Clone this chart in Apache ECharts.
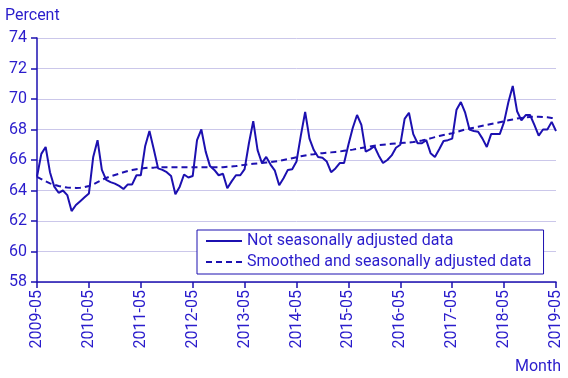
<!DOCTYPE html>
<html><head><meta charset="utf-8">
<script src="https://cdn.jsdelivr.net/npm/echarts@6/dist/echarts.min.js"></script>
<style>html,body{margin:0;padding:0;background:#fff}#c{width:568px;height:378px}</style>
</head><body><div id="c"></div>
<script>
const startYear = 2009, startMonth = 5, monthCount = 121;
const months = [];
for (let k = 0; k < monthCount; k++) {
  const m = (startMonth - 1 + k) % 12 + 1;
  const y = startYear + Math.floor((startMonth - 1 + k) / 12);
  months.push(y + '-' + (m < 10 ? '0' + m : m));
}
const notAdjusted = [
  64.9, 66.4, 66.85, 65.2, 64.25, 63.85, 64.0, 63.7, 62.65, 63.05, 63.3, 63.55,
  63.8, 66.2, 67.3, 65.35, 64.7, 64.55, 64.45, 64.3, 64.1, 64.4, 64.4, 65.0,
  65.0, 66.9, 67.9, 66.7, 65.45, 65.35, 65.2, 64.95, 63.75, 64.25, 65.05, 64.85,
  64.95, 67.3, 68.0, 66.55, 65.6, 65.35, 65.0, 65.1, 64.15, 64.6, 65.0, 65.0,
  65.4, 67.1, 68.55, 66.65, 65.8, 66.2, 65.7, 65.3, 64.35, 64.8, 65.35, 65.4,
  65.9, 67.6, 69.15, 67.4, 66.65, 66.2, 66.15, 65.9, 65.2, 65.45, 65.8, 65.8,
  67.0, 68.1, 68.95, 68.3, 66.55, 66.7, 66.9, 66.3, 65.8, 66.0, 66.3, 66.8,
  67.0, 68.7, 69.1, 67.7, 67.1, 67.1, 67.3, 66.45, 66.2, 66.7, 67.25, 67.3,
  67.4, 69.3, 69.8, 69.1, 68.0, 67.9, 67.85, 67.4, 66.85, 67.7, 67.7, 67.7,
  68.5, 69.8, 70.85, 69.2, 68.6, 68.95, 68.95, 68.3, 67.6, 68.0, 68.0, 68.5,
  67.9
];
const smoothed = [
  64.9, 64.75, 64.6, 64.47, 64.38, 64.3, 64.23, 64.2, 64.18, 64.17, 64.18, 64.22,
  64.3, 64.4, 64.55, 64.7, 64.82, 64.93, 65.02, 65.1, 65.2, 65.28, 65.34, 65.4,
  65.44, 65.47, 65.5, 65.5, 65.52, 65.52, 65.53, 65.53, 65.53, 65.53, 65.53, 65.53,
  65.52, 65.52, 65.52, 65.52, 65.52, 65.52, 65.52, 65.53, 65.55, 65.57, 65.6, 65.64,
  65.68, 65.72, 65.75, 65.78, 65.8, 65.83, 65.86, 65.9, 65.94, 66.0, 66.06, 66.12,
  66.18, 66.24, 66.3, 66.35, 66.38, 66.42, 66.45, 66.48, 66.5, 66.53, 66.56, 66.6,
  66.64, 66.68, 66.73, 66.78, 66.83, 66.88, 66.93, 66.97, 67.0, 67.03, 67.06, 67.09,
  67.11, 67.13, 67.15, 67.18, 67.22, 67.28, 67.35, 67.42, 67.5, 67.57, 67.64, 67.7,
  67.76, 67.83, 67.92, 68.0, 68.06, 68.12, 68.18, 68.24, 68.3, 68.36, 68.42, 68.48,
  68.54, 68.6, 68.66, 68.72, 68.76, 68.8, 68.82, 68.84, 68.84, 68.82, 68.8, 68.76,
  68.7
];
const seriesNames = ['Not seasonally adjusted data', 'Smoothed and seasonally adjusted data'];
const yTitle = 'Percent', xTitle = 'Month';

const LINE = '#1c10b0', TEXT = '#2a1ccc', GRID = '#cbc7ea';
const chart = echarts.init(document.getElementById('c'), null, {renderer: 'canvas'});
chart.setOption({
  animation: false,
  textStyle: {fontFamily: 'Roboto'},
  grid: {left: 37, right: 12, top: 38, bottom: 96, containLabel: false, outerBoundsMode: 'none'},
  legend: {
    orient: 'vertical', left: 197, top: 230,
    itemWidth: 36, itemHeight: 10, itemGap: 5,
    padding: [3, 12, 4, 8],
    borderColor: LINE, borderWidth: 1, backgroundColor: '#fff',
    itemStyle: {opacity: 0},
    textStyle: {color: TEXT, fontSize: 16, fontFamily: 'Roboto'},
    data: seriesNames
  },
  xAxis: {
    type: 'category', data: months, boundaryGap: false,
    name: xTitle, nameLocation: 'end',
    nameTextStyle: {color: TEXT, fontSize: 16, align: 'right', verticalAlign: 'top', padding: [77, 0, 0, 0]},
    nameGap: 5,
    axisLine: {lineStyle: {color: LINE, width: 1.5}},
    axisTick: {interval: 11, length: 6, lineStyle: {color: LINE, width: 1.5}},
    axisLabel: {interval: 11, rotate: 90, color: TEXT, fontSize: 16, margin: 8},
    splitLine: {show: false}
  },
  yAxis: {
    type: 'value', min: 58, max: 74, interval: 2,
    name: yTitle, nameLocation: 'end',
    nameTextStyle: {color: TEXT, fontSize: 16, align: 'left', padding: [0, 0, 2, -32]},
    nameGap: 12,
    axisLine: {show: true, lineStyle: {color: LINE, width: 1.5}},
    axisTick: {show: true, length: 6, lineStyle: {color: LINE, width: 1.5}},
    axisLabel: {color: TEXT, fontSize: 16, margin: 10},
    splitLine: {lineStyle: {color: GRID, width: 1}}
  },
  series: [
    {name: seriesNames[0], type: 'line', data: notAdjusted, showSymbol: false, symbol: 'none',
     lineStyle: {color: LINE, width: 2}, itemStyle: {color: LINE}},
    {name: seriesNames[1], type: 'line', data: smoothed, showSymbol: false, symbol: 'none',
     lineStyle: {color: LINE, width: 2, type: [6, 4]}, itemStyle: {color: LINE}}
  ]
});
</script></body></html>
